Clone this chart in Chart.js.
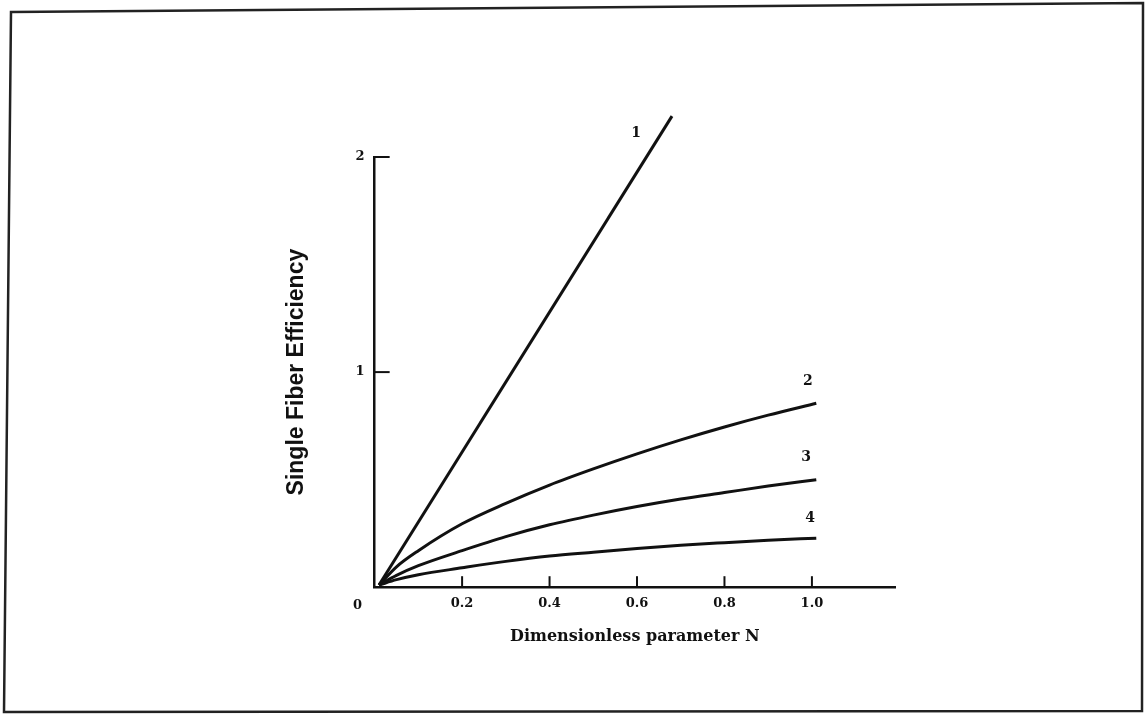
<!DOCTYPE html>
<html>
<head>
<meta charset="utf-8">
<script src="https://cdn.jsdelivr.net/npm/chart.js@4/dist/chart.umd.min.js"></script>
<style>
  html, body { margin: 0; padding: 0; background: #fff; }
  canvas { display: block; }
</style>
</head>
<body>
<canvas id="fiberChart" width="1146" height="716"></canvas>
<script>
// values
const curveN = [0.01, 0.05, 0.1, 0.2, 0.3, 0.4, 0.5, 0.6, 0.7, 0.8, 0.9, 1.01];
const curve2 = [0.01, 0.095, 0.17, 0.295, 0.39, 0.475, 0.55, 0.62, 0.685, 0.745, 0.80, 0.855];
const curve3 = [0.01, 0.055, 0.10, 0.17, 0.235, 0.29, 0.335, 0.375, 0.41, 0.44, 0.47, 0.50];
const curve4 = [0.01, 0.035, 0.058, 0.09, 0.12, 0.145, 0.163, 0.18, 0.195, 0.207, 0.218, 0.228];
const line1N = [0.01, 0.68];
const line1E = [0.01, 2.19];

const xTicks = [0.2, 0.4, 0.6, 0.8, 1.0];
const yTicks = [1, 2];

const curveLabels = ['1', '2', '3', '4'];
const curveLabelN = [0.598, 0.991, 0.987, 0.996];
const curveLabelE = [2.11, 0.958, 0.605, 0.32];

const serif = '"DejaVu Serif", "Liberation Serif", serif';

function toPoints(xs, ys) {
  return xs.map((x, i) => ({ x: x, y: ys[i] }));
}

function lineSet(points, tension) {
  return {
    data: points,
    borderColor: '#111',
    borderWidth: 3,
    pointRadius: 0,
    tension: tension,
    cubicInterpolationMode: 'monotone',
    clip: false
  };
}

// frame, inside tick marks, the origin "0" and the curve numbers
const figureExtras = {
  id: 'figureExtras',
  beforeDraw(chart) {
    const ctx = chart.ctx;
    ctx.save();
    ctx.fillStyle = '#fff';
    ctx.fillRect(0, 0, chart.width, chart.height);
    ctx.strokeStyle = '#222';
    ctx.lineWidth = 2.5;
    ctx.beginPath();
    ctx.moveTo(11, 12);
    ctx.lineTo(1143, 3);
    ctx.lineTo(1142, 711);
    ctx.lineTo(4, 712);
    ctx.closePath();
    ctx.stroke();
    ctx.restore();
  },
  afterDraw(chart) {
    const ctx = chart.ctx;
    const xs = chart.scales.x;
    const ys = chart.scales.y;
    const y0 = ys.getPixelForValue(0);
    const x0 = xs.getPixelForValue(0);
    ctx.save();
    ctx.strokeStyle = '#111';
    ctx.lineWidth = 2;
    xTicks.forEach(t => {
      const px = xs.getPixelForValue(t);
      ctx.beginPath();
      ctx.moveTo(px, y0);
      ctx.lineTo(px, y0 - 11);
      ctx.stroke();
    });
    yTicks.forEach(t => {
      const py = ys.getPixelForValue(t);
      ctx.beginPath();
      ctx.moveTo(x0, py);
      ctx.lineTo(x0 + 15, py);
      ctx.stroke();
    });
    ctx.fillStyle = '#111';
    ctx.textAlign = 'center';
    ctx.textBaseline = 'middle';
    ctx.font = 'bold 13px ' + serif;
    ctx.fillText('0', x0 - 17, y0 + 18);
    ctx.font = 'bold 14px ' + serif;
    curveLabels.forEach((lbl, i) => {
      ctx.fillText(lbl, xs.getPixelForValue(curveLabelN[i]), ys.getPixelForValue(curveLabelE[i]));
    });
    ctx.restore();
  }
};

const ctx = document.getElementById('fiberChart').getContext('2d');
new Chart(ctx, {
  type: 'line',
  data: {
    datasets: [
      lineSet(toPoints(line1N, line1E), 0),
      lineSet(toPoints(curveN, curve2), 0.4),
      lineSet(toPoints(curveN, curve3), 0.4),
      lineSet(toPoints(curveN, curve4), 0.4)
    ]
  },
  options: {
    responsive: false,
    animation: false,
    layout: { padding: { left: 283, right: 251, top: 157, bottom: 70 } },
    plugins: { legend: { display: false }, tooltip: { enabled: false } },
    scales: {
      x: {
        type: 'linear',
        min: 0,
        max: 1.19,
        grid: { display: false, drawTicks: false },
        border: { display: true, color: '#111', width: 2.5 },
        ticks: {
          stepSize: 0.2,
          padding: 9,
          color: '#111',
          font: { family: serif, size: 13, weight: 'bold' },
          callback: (v) => {
            if (v === 0 || v > 1.0001) return '';
            return Number(v).toFixed(1);
          }
        },
        title: {
          display: true,
          text: 'Dimensionless parameter N',
          color: '#111',
          font: { family: serif, size: 16, weight: 'bold' },
          padding: { top: 6, bottom: 0 }
        }
      },
      y: {
        min: 0,
        max: 2,
        grid: { display: false, drawTicks: false },
        border: { display: true, color: '#111', width: 2.5 },
        ticks: {
          stepSize: 1,
          padding: 10,
          color: '#111',
          font: { family: serif, size: 13, weight: 'bold' },
          callback: (v) => (v === 0 ? '' : String(v))
        },
        title: {
          display: true,
          text: 'Single Fiber Efficiency',
          color: '#111',
          font: { family: '"Liberation Sans", Arial, sans-serif', size: 23, weight: 'bold' },
          padding: { top: 0, bottom: 35 }
        }
      }
    }
  },
  plugins: [figureExtras]
});
</script>
</body>
</html>
